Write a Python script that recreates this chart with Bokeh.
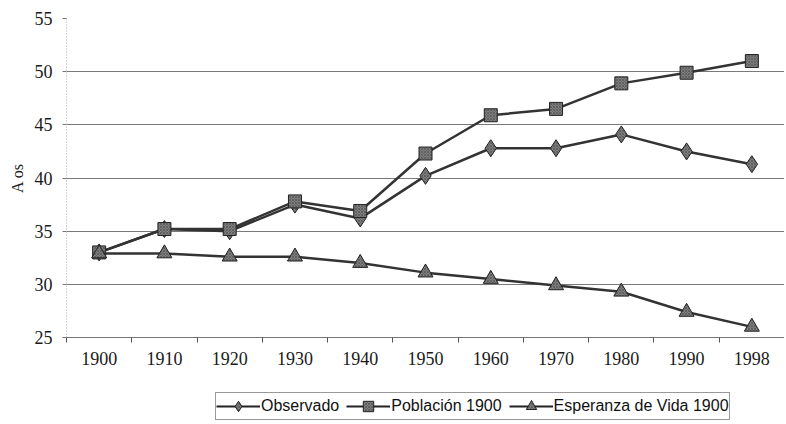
from bokeh.plotting import figure
from bokeh.layouts import column
from bokeh.models import FixedTicker, Legend, LegendItem, Range1d
from bokeh.embed import file_html
from bokeh.resources import INLINE

years = ["1900", "1910", "1920", "1930", "1940", "1950", "1960", "1970", "1980", "1990", "1998"]
observado = [33.0, 35.2, 35.0, 37.5, 36.2, 40.2, 42.8, 42.8, 44.1, 42.5, 41.3]
poblacion = [33.0, 35.2, 35.2, 37.8, 36.9, 42.3, 45.9, 46.5, 48.9, 49.9, 51.0]
esperanza = [32.9, 32.9, 32.6, 32.6, 32.0, 31.1, 30.5, 29.9, 29.3, 27.4, 26.0]
series_names = ["Observado", "Población 1900", "Esperanza de Vida 1900"]
y_ticks = [25, 30, 35, 40, 45, 50, 55]

xs = list(range(len(years)))

p = figure(width=784, height=370, output_backend="svg", toolbar_location=None,
           x_range=Range1d(-0.5, len(years) - 0.5), y_range=Range1d(25, 55),
           min_border_left=66, min_border_right=0, min_border_top=18, min_border_bottom=33)
p.outline_line_color = None
p.background_fill_color = "white"

# axes
p.xaxis.ticker = FixedTicker(ticks=xs, minor_ticks=[i - 0.5 for i in range(len(years) + 1)])
p.xaxis.major_label_overrides = {i: y for i, y in enumerate(years)}
p.xaxis.major_tick_out = 0
p.xaxis.major_tick_in = 0
p.xaxis.minor_tick_out = 5
p.xaxis.minor_tick_in = 0
p.xaxis.minor_tick_line_color = "#555555"
p.xaxis.axis_line_color = "#777777"
p.xaxis.major_label_text_font = "Liberation Serif"
p.xaxis.major_label_text_font_size = "18px"
p.xaxis.major_label_text_color = "#1a1a1a"
p.xaxis.major_label_standoff = 9

p.yaxis.ticker = FixedTicker(ticks=y_ticks)
p.yaxis.minor_tick_line_color = None
p.yaxis.major_tick_out = 4
p.yaxis.major_tick_in = 0
p.yaxis.major_tick_line_color = "#777777"
p.yaxis.axis_line_color = "#aaaaaa"
p.yaxis.axis_line_dash = "1 2"
p.yaxis.major_label_text_font = "Liberation Serif"
p.yaxis.major_label_text_font_size = "18px"
p.yaxis.major_label_text_color = "#1a1a1a"
p.yaxis.major_label_standoff = 10
p.yaxis.axis_label = "A os"
p.yaxis.axis_label_text_font = "Liberation Serif"
p.yaxis.axis_label_text_font_size = "16px"
p.yaxis.axis_label_text_font_style = "normal"
p.yaxis.axis_label_text_color = "#1a1a1a"
p.yaxis.axis_label_standoff = 6

p.xgrid.grid_line_color = None
p.ygrid.ticker = FixedTicker(ticks=y_ticks)
p.ygrid.grid_line_color = "#7a7a7a"
p.ygrid.grid_line_width = 1

line_kw = dict(line_color="#333333", line_width=2.5)
mk_kw = dict(fill_color="#7f7f7f", line_color="#222222", line_width=1,
             hatch_pattern="diagonal_cross", hatch_color="#333333", hatch_alpha=0.5,
             hatch_scale=3, hatch_weight=0.8)

p.line(xs, observado, **line_kw)
p.scatter(xs, observado, marker="diamond", size=17, **mk_kw)
p.line(xs, poblacion, **line_kw)
p.scatter(xs, poblacion, marker="square", size=13, **mk_kw)
p.line(xs, esperanza, **line_kw)
p.scatter(xs, esperanza, marker="triangle", size=15, **mk_kw)

# legend strip (its own small figure below the chart)
lg = figure(width=784, height=52, output_backend="svg", toolbar_location=None,
            x_range=Range1d(0, 1), y_range=Range1d(0, 1),
            min_border_left=66, min_border_right=0, min_border_top=0, min_border_bottom=0)
lg.axis.visible = False
lg.grid.visible = False
lg.outline_line_color = None

items = []
for name, marker in zip(series_names, ["diamond", "square", "triangle"]):
    r1 = lg.line([-5, -4], [-5, -5], line_color="#222222", line_width=2)
    r2 = lg.scatter([-5], [-5], marker=marker, size=11, **mk_kw)
    items.append(LegendItem(label=name, renderers=[r1, r2]))

legend = Legend(items=items, orientation="horizontal", location=(149, 2))
legend.label_text_font = "Liberation Sans"
legend.label_text_font_size = "16px"
legend.label_text_color = "#111111"
legend.glyph_width = 44
legend.glyph_height = 26
legend.label_standoff = 1
legend.spacing = 7
legend.padding = 0
legend.margin = 0
legend.border_line_color = "#333333"
legend.border_line_width = 1
legend.background_fill_alpha = 0
lg.add_layout(legend, "center")

open("out.html", "w").write(file_html(column(p, lg, spacing=0), INLINE))
